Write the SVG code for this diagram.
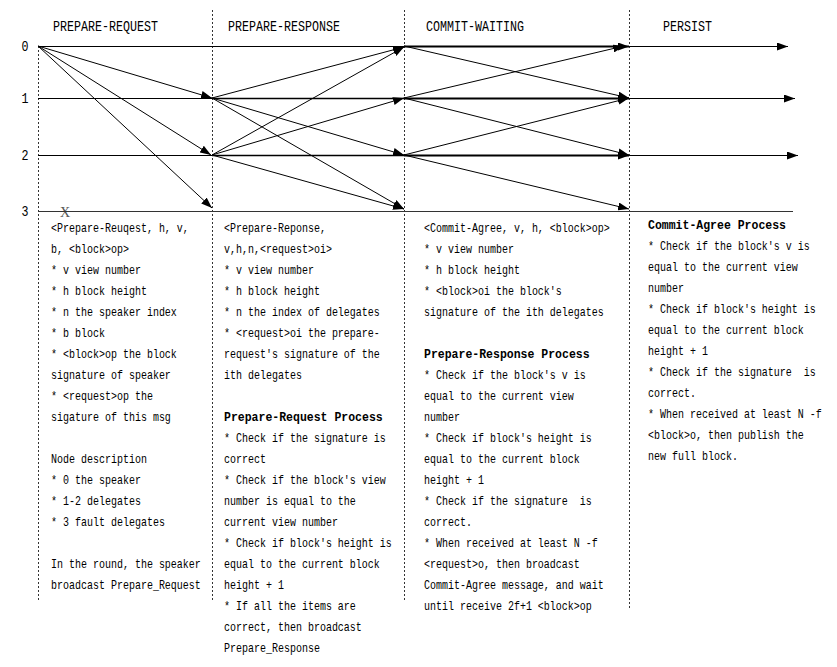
<svg xmlns="http://www.w3.org/2000/svg" width="837" height="667" viewBox="0 0 837 667">
<style>
  .t { font-family: "Liberation Mono", "DejaVu Sans Mono", monospace; font-size: 12px; fill: #000; white-space: pre; }
  .b { font-weight: bold; }
  .h { font-family: "Liberation Mono", "DejaVu Sans Mono", monospace; font-size: 14px; fill: #000; white-space: pre; }
  .ln { stroke: #000; stroke-width: 1; fill: none; }
  .thk { stroke: #000; stroke-width: 2.2; fill: none; }
  .mid { stroke: #000; stroke-width: 1.5; fill: none; }
  .dot { stroke: #333; stroke-width: 1; stroke-dasharray: 2 2; fill: none; }
  .arr { marker-end: url(#ah); }
</style>
<defs>
  <marker id="ah" markerUnits="userSpaceOnUse" markerWidth="11" markerHeight="8" refX="11" refY="4" orient="auto">
    <path d="M0,0 L11,4 L0,8 z" fill="#000"/>
  </marker>
</defs>
<rect width="837" height="667" fill="#fff"/>

<g id="phase-lines">
  <line class="dot" x1="38.5" y1="46" x2="38.5" y2="600"/>
  <line class="dot" x1="212.5" y1="10" x2="212.5" y2="600"/>
  <line class="dot" x1="404.5" y1="10" x2="404.5" y2="600"/>
  <line class="dot" x1="629.5" y1="10" x2="629.5" y2="610"/>
</g>

<g id="headers">
  <g transform="translate(53 31) scale(0.8333 1)"><text class="h" x="0" y="0">PREPARE-REQUEST</text></g>
  <g transform="translate(228 31) scale(0.8333 1)"><text class="h" x="0" y="0">PREPARE-RESPONSE</text></g>
  <g transform="translate(426 31) scale(0.8333 1)"><text class="h" x="0" y="0">COMMIT-WAITING</text></g>
  <g transform="translate(663 31) scale(0.8333 1)"><text class="h" x="0" y="0">PERSIST</text></g>
</g>

<g id="node-labels">
  <g id="node0" transform="translate(25 51) scale(0.8333 1)"><text class="h" x="0" y="0" text-anchor="middle">0</text></g>
  <g id="node1" transform="translate(25 103) scale(0.8333 1)"><text class="h" x="0" y="0" text-anchor="middle">1</text></g>
  <g id="node2" transform="translate(25 160) scale(0.8333 1)"><text class="h" x="0" y="0" text-anchor="middle">2</text></g>
  <g id="node3" transform="translate(25 216) scale(0.8333 1)"><text class="h" x="0" y="0" text-anchor="middle">3</text></g>
  <text id="fault-x" x="65" y="217" text-anchor="middle" style="font-family:'Liberation Serif',serif;font-size:14px;fill:#555">X</text>
</g>

<g id="connectors">
  <!-- row 0 -->
  <line class="ln" x1="38" y1="46.5" x2="404" y2="46.5"/>
  <line class="thk arr" x1="404" y1="46.5" x2="629" y2="46.5"/>
  <line class="ln arr" x1="629" y1="46.5" x2="788" y2="46.5"/>
  <!-- row 1 -->
  <line class="ln" x1="38" y1="98.5" x2="212" y2="98.5"/>
  <line class="mid" x1="212" y1="98.5" x2="404" y2="98.5"/>
  <line class="thk arr" x1="404" y1="98.5" x2="629" y2="98.5"/>
  <line class="ln arr" x1="629" y1="98.5" x2="795" y2="98.5"/>
  <!-- row 2 -->
  <line class="ln" x1="38" y1="155.5" x2="212" y2="155.5"/>
  <line class="mid" x1="212" y1="155.5" x2="404" y2="155.5"/>
  <line class="thk arr" x1="404" y1="155.5" x2="629" y2="155.5"/>
  <line class="ln arr" x1="629" y1="155.5" x2="798" y2="155.5"/>
  <!-- row 3 -->
  <line class="ln" x1="38" y1="211.5" x2="793" y2="211.5" style="stroke:#333"/>

  <!-- prepare-request -->
  <line class="ln arr" x1="38" y1="46" x2="212" y2="98"/>
  <line class="ln arr" x1="38" y1="46" x2="211" y2="155"/>
  <line class="ln arr" x1="38" y1="46" x2="212" y2="208"/>
  <!-- prepare-response -->
  <line class="ln arr" x1="212" y1="98" x2="404" y2="47"/>
  <line class="ln arr" x1="212" y1="98" x2="404" y2="155"/>
  <line class="ln arr" x1="212" y1="98" x2="404" y2="209"/>
  <line class="ln arr" x1="212" y1="155" x2="404" y2="47"/>
  <line class="ln arr" x1="212" y1="155" x2="404" y2="98"/>
  <line class="ln arr" x1="212" y1="155" x2="404" y2="209"/>
  <!-- commit-waiting -->
  <line class="ln arr" x1="404" y1="46" x2="629" y2="98"/>
  <line class="ln arr" x1="404" y1="98" x2="624" y2="46"/>
  <line class="ln arr" x1="404" y1="98" x2="629" y2="155"/>
  <line class="ln arr" x1="404" y1="155" x2="629" y2="98"/>
  <line class="ln arr" x1="404" y1="155" x2="629" y2="209"/>
</g>

<g id="col-prepare-request">
  <g transform="translate(51 0) scale(0.8333 1)">
    <text class="t" x="0" y="232">&lt;Prepare-Reuqest, h, v,</text>
    <text class="t" x="0" y="253">b, &lt;block&gt;op&gt;</text>
    <text class="t" x="0" y="274">* v view number</text>
    <text class="t" x="0" y="295">* h block height</text>
    <text class="t" x="0" y="316">* n the speaker index</text>
    <text class="t" x="0" y="337">* b block</text>
    <text class="t" x="0" y="358">* &lt;block&gt;op the block</text>
    <text class="t" x="0" y="379">signature of speaker</text>
    <text class="t" x="0" y="400">* &lt;request&gt;op the</text>
    <text class="t" x="0" y="421">sigature of this msg</text>
    <text class="t" x="0" y="463">Node description</text>
    <text class="t" x="0" y="484">* 0 the speaker</text>
    <text class="t" x="0" y="505">* 1-2 delegates</text>
    <text class="t" x="0" y="526">* 3 fault delegates</text>
    <text class="t" x="0" y="568">In the round, the speaker</text>
    <text class="t" x="0" y="589">broadcast Prepare_Request</text>
  </g>
</g>

<g id="col-prepare-response">
  <g transform="translate(224 0) scale(0.8333 1)">
    <text class="t" x="0" y="232">&lt;Prepare-Reponse,</text>
    <text class="t" x="0" y="253">v,h,n,&lt;request&gt;oi&gt;</text>
    <text class="t" x="0" y="274">* v view number</text>
    <text class="t" x="0" y="295">* h block height</text>
    <text class="t" x="0" y="316">* n the index of delegates</text>
    <text class="t" x="0" y="337">* &lt;request&gt;oi the prepare-</text>
    <text class="t" x="0" y="358">request's signature of the</text>
    <text class="t" x="0" y="379">ith delegates</text>
    <text class="t" x="0" y="442">* Check if the signature is</text>
    <text class="t" x="0" y="463">correct</text>
    <text class="t" x="0" y="484">* Check if the block's view</text>
    <text class="t" x="0" y="505">number is equal to the</text>
    <text class="t" x="0" y="526">current view number</text>
    <text class="t" x="0" y="547">* Check if block's height is</text>
    <text class="t" x="0" y="568">equal to the current block</text>
    <text class="t" x="0" y="589">height + 1</text>
    <text class="t" x="0" y="610">* If all the items are</text>
    <text class="t" x="0" y="631">correct, then broadcast</text>
    <text class="t" x="0" y="652">Prepare_Response</text>
  </g>
  <g transform="translate(224 0) scale(0.9583 1)">
    <text class="t b" x="0" y="421">Prepare-Request Process</text>
  </g>
</g>

<g id="col-commit-waiting">
  <g transform="translate(424 0) scale(0.8333 1)">
    <text class="t" x="0" y="232">&lt;Commit-Agree, v, h, &lt;block&gt;op&gt;</text>
    <text class="t" x="0" y="253">* v view number</text>
    <text class="t" x="0" y="274">* h block height</text>
    <text class="t" x="0" y="295">* &lt;block&gt;oi the block's</text>
    <text class="t" x="0" y="316">signature of the ith delegates</text>
    <text class="t" x="0" y="379">* Check if the block's v is</text>
    <text class="t" x="0" y="400">equal to the current view</text>
    <text class="t" x="0" y="421">number</text>
    <text class="t" x="0" y="442">* Check if block's height is</text>
    <text class="t" x="0" y="463">equal to the current block</text>
    <text class="t" x="0" y="484">height + 1</text>
    <text class="t" x="0" y="505">* Check if the signature  is</text>
    <text class="t" x="0" y="526">correct.</text>
    <text class="t" x="0" y="547">* When received at least N -f</text>
    <text class="t" x="0" y="568">&lt;request&gt;o, then broadcast</text>
    <text class="t" x="0" y="589">Commit-Agree message, and wait</text>
    <text class="t" x="0" y="610">until receive 2f+1 &lt;block&gt;op</text>
  </g>
  <g transform="translate(424 0) scale(0.9583 1)">
    <text class="t b" x="0" y="358">Prepare-Response Process</text>
  </g>
</g>

<g id="col-persist">
  <g transform="translate(648 0) scale(0.8333 1)">
    <text class="t" x="0" y="250">* Check if the block's v is</text>
    <text class="t" x="0" y="271">equal to the current view</text>
    <text class="t" x="0" y="292">number</text>
    <text class="t" x="0" y="313">* Check if block's height is</text>
    <text class="t" x="0" y="334">equal to the current block</text>
    <text class="t" x="0" y="355">height + 1</text>
    <text class="t" x="0" y="376">* Check if the signature  is</text>
    <text class="t" x="0" y="397">correct.</text>
    <text class="t" x="0" y="418">* When received at least N -f</text>
    <text class="t" x="0" y="439">&lt;block&gt;o, then publish the</text>
    <text class="t" x="0" y="460">new full block.</text>
  </g>
  <g transform="translate(648 0) scale(0.9583 1)">
    <text class="t b" x="0" y="229">Commit-Agree Process</text>
  </g>
</g>
</svg>
